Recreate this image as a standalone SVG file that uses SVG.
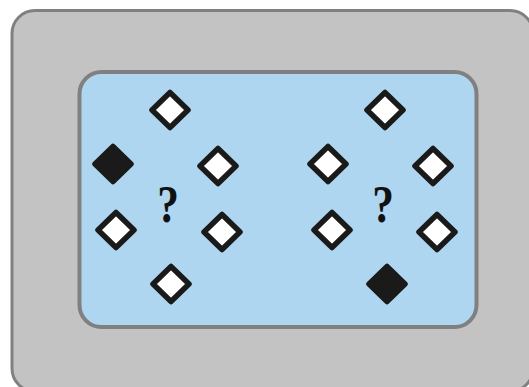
<svg xmlns="http://www.w3.org/2000/svg" width="529" height="387" viewBox="0 0 529 387">
<style>
.d{stroke:#1a1a1a;stroke-width:5.5;stroke-linejoin:round}
.w{fill:#ffffff}
.b{fill:#1a1a1a}
.q{font-family:"Liberation Serif",serif;font-weight:bold;font-size:53px;fill:#111;text-anchor:middle}
</style>
<defs>
<polygon id="dm" points="0,-17.5 18,0 0,17.5 -18,0"/>
</defs>
<g id="outer"><rect x="12" y="10.5" width="521" height="381" rx="23" fill="#c3c3c3" stroke="#808080" stroke-width="3"/></g>
<g id="panel"><rect x="79.5" y="72" width="397" height="255" rx="22" fill="#aed6f1" stroke="#808080" stroke-width="4"/></g>
<g id="left-group">
<use href="#dm" class="d w" x="170" y="110"/>
<use href="#dm" class="d b" x="113" y="164"/>
<use href="#dm" class="d w" x="218" y="166"/>
<use href="#dm" class="d w" x="116" y="230"/>
<use href="#dm" class="d w" x="222" y="232"/>
<use href="#dm" class="d w" x="171" y="284"/>
<text class="q" transform="translate(168 222) scale(0.82 1)">?</text>
</g>
<g id="right-group">
<use href="#dm" class="d w" x="385" y="110"/>
<use href="#dm" class="d w" x="328" y="164"/>
<use href="#dm" class="d w" x="433" y="166"/>
<use href="#dm" class="d w" x="332" y="230"/>
<use href="#dm" class="d w" x="437" y="232"/>
<use href="#dm" class="d b" x="387" y="284"/>
<text class="q" transform="translate(383 222) scale(0.82 1)">?</text>
</g>
</svg>
